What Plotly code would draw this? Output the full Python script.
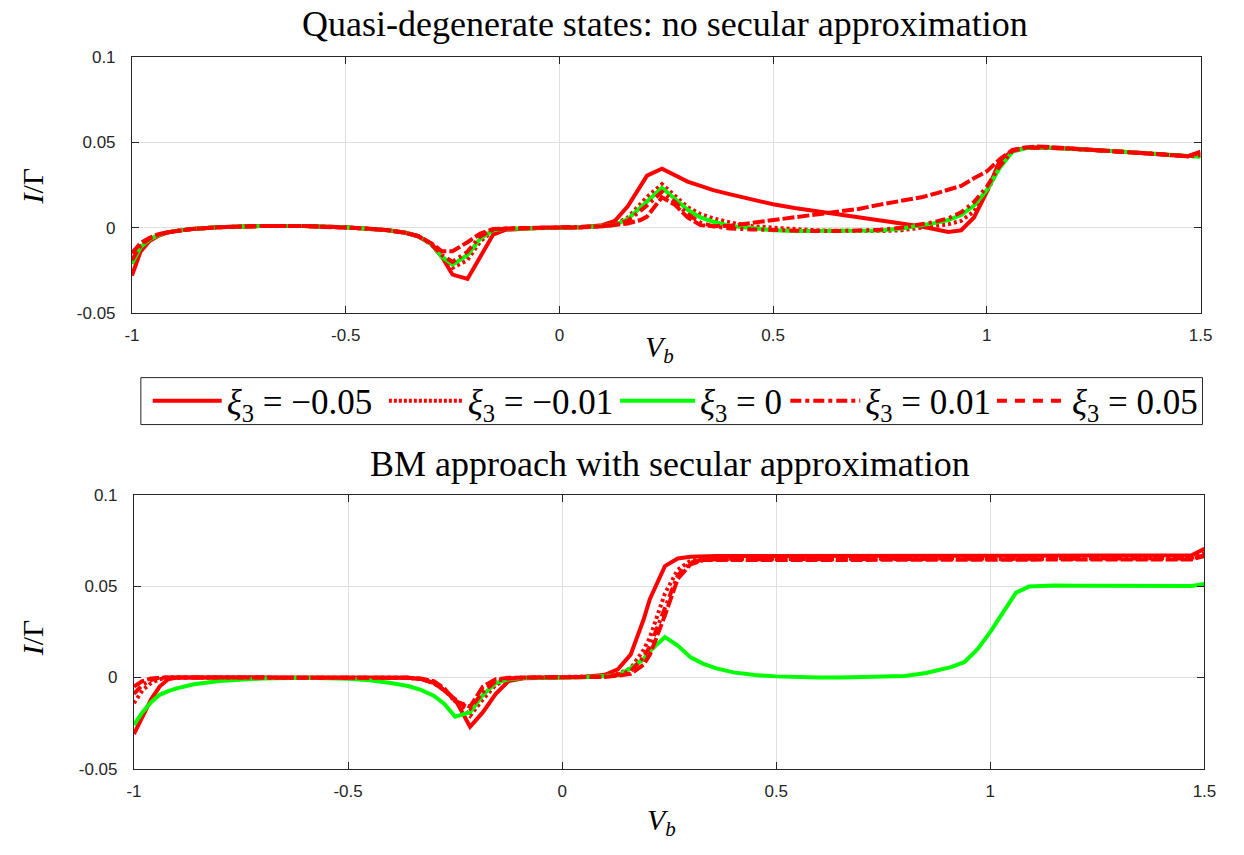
import plotly.graph_objects as go

# ---------------- data ----------------
V = [-1, -0.98, -0.96, -0.94, -0.92, -0.9, -0.86, -0.8, -0.7, -0.6,
     -0.5, -0.45, -0.4, -0.36, -0.33, -0.3, -0.275, -0.25, -0.215, -0.185,
     -0.155, -0.125, -0.09, -0.05, 0, 0.05, 0.1, 0.13, 0.16, 0.19,
     0.205, 0.24, 0.27, 0.3, 0.33, 0.36, 0.4, 0.45, 0.5, 0.55,
     0.6, 0.65, 0.7, 0.75, 0.8, 0.85, 0.88, 0.91, 0.94, 0.97,
     1.0, 1.03, 1.06, 1.09, 1.12, 1.15, 1.2, 1.3, 1.4, 1.47, 1.5]

# top panel: quasi-degenerate states, no secular approximation
top_m005 = [-0.028, -0.014, -0.008, -0.005, -0.003, -0.002, -0.0008, 0.0002, 0.001, 0.001,
            0.0002, -0.0005, -0.0015, -0.003, -0.005, -0.0095, -0.017, -0.0275, -0.030, -0.017,
            -0.004, -0.0012, -0.0005, -0.0002, 0.0, 0.0003, 0.0015, 0.004, 0.0125, 0.0245,
            0.0305, 0.0345, 0.031, 0.027, 0.0245, 0.022, 0.0195, 0.0163, 0.0137, 0.0115,
            0.0098, 0.008, 0.0062, 0.0045, 0.0025, 0.0005, -0.0012, -0.0025, -0.0015, 0.006,
            0.021, 0.039, 0.045, 0.0466, 0.047, 0.0468, 0.0462, 0.0448, 0.0432, 0.0418, 0.0445]
top_m001 = [-0.021, -0.011, -0.007, -0.0045, -0.003, -0.002, -0.0008, 0.0002, 0.001, 0.001,
            0.0002, -0.0005, -0.0015, -0.003, -0.005, -0.0095, -0.017, -0.0235, -0.019, -0.008,
            -0.002, -0.0008, -0.0004, -0.0002, 0.0, 0.0002, 0.001, 0.002, 0.006, 0.014,
            0.018, 0.0255, 0.019, 0.012, 0.008, 0.0055, 0.003, 0.001, 0.0, -0.001,
            -0.0015, -0.0018, -0.002, -0.002, -0.0015, 0.0, 0.0012, 0.002, 0.004, 0.0095,
            0.021, 0.036, 0.045, 0.0466, 0.047, 0.0468, 0.0462, 0.0448, 0.0432, 0.0418, 0.042]
top_0 = [-0.021, -0.0115, -0.007, -0.0045, -0.003, -0.002, -0.0008, 0.0002, 0.001, 0.001,
         0.0002, -0.0005, -0.0015, -0.003, -0.005, -0.0095, -0.017, -0.0216, -0.016, -0.0063,
         -0.0015, -0.0006, -0.0003, -0.0001, 0.0, 0.0002, 0.001, 0.0015, 0.005, 0.012,
         0.0155, 0.0233, 0.017, 0.0105, 0.006, 0.0035, 0.001, -0.0005, -0.0015, -0.002,
         -0.002, -0.002, -0.002, -0.0016, -0.0005, 0.0015, 0.0028, 0.0045, 0.0075, 0.013,
         0.022, 0.035, 0.0445, 0.0465, 0.047, 0.0468, 0.0462, 0.0448, 0.0432, 0.0418, 0.0415]
top_p001 = [-0.019, -0.0105, -0.0065, -0.0043, -0.003, -0.002, -0.0008, 0.0002, 0.001, 0.001,
            0.0002, -0.0005, -0.0015, -0.003, -0.005, -0.0095, -0.016, -0.020, -0.014, -0.005,
            -0.0013, -0.0005, -0.0003, -0.0001, 0.0, 0.0002, 0.0008, 0.0015, 0.004, 0.010,
            0.013, 0.021, 0.015, 0.008, 0.003, 0.0008, -0.0005, -0.001, -0.0015, -0.0018,
            -0.002, -0.002, -0.0018, -0.0012, 0.0, 0.002, 0.0035, 0.0055, 0.009, 0.015,
            0.024, 0.036, 0.045, 0.0468, 0.047, 0.0468, 0.0462, 0.0448, 0.0432, 0.0418, 0.0425]
top_p005 = [-0.015, -0.009, -0.006, -0.004, -0.0028, -0.002, -0.0008, 0.0002, 0.001, 0.001,
            0.0002, -0.0005, -0.0015, -0.003, -0.005, -0.009, -0.0138, -0.0138, -0.0085, -0.0034,
            -0.0008, -0.0003, -0.0002, -0.0001, 0.0, 0.0002, 0.0008, 0.0015, 0.0025, 0.0045,
            0.0065, 0.0178, 0.0135, 0.006, 0.0015, 0.0008, 0.0012, 0.0028, 0.0045, 0.006,
            0.0075, 0.0093, 0.011, 0.0135, 0.0158, 0.018, 0.020, 0.022, 0.0245, 0.029,
            0.033, 0.040, 0.0455, 0.047, 0.0476, 0.0472, 0.0464, 0.0449, 0.0433, 0.0419, 0.044]

# bottom panel: BM approach with secular approximation
bot_m005 = [-0.031, -0.021, -0.012, -0.005, -0.001, 0.0, 0.0, 0.0, 0.0, 0.0,
            0.0, 0.0, 0.0, -0.0002, -0.0008, -0.003, -0.007, -0.012, -0.027, -0.019,
            -0.009, -0.002, -0.0004, 0.0, 0.0, 0.0002, 0.0015, 0.0045, 0.0125, 0.0316,
            0.043, 0.061, 0.0652, 0.0662, 0.0665, 0.0665, 0.0665, 0.0665, 0.0665, 0.0665,
            0.0665, 0.0665, 0.0665, 0.0665, 0.0665, 0.0665, 0.0665, 0.0665, 0.0665, 0.0665,
            0.0665, 0.0665, 0.0665, 0.0665, 0.0665, 0.0665, 0.0665, 0.0665, 0.0666, 0.0669, 0.0705]
bot_m001 = [-0.014, -0.007, -0.003, -0.001, 0.0, 0.0, 0.0, 0.0, 0.0, 0.0,
            0.0, 0.0, 0.0, -0.0002, -0.0008, -0.003, -0.007, -0.012, -0.021, -0.012,
            -0.004, -0.001, -0.0002, 0.0, 0.0, 0.0001, 0.0008, 0.002, 0.005, 0.015,
            0.022, 0.046, 0.059, 0.064, 0.0648, 0.065, 0.065, 0.065, 0.065, 0.065,
            0.065, 0.065, 0.065, 0.065, 0.065, 0.065, 0.065, 0.065, 0.065, 0.065,
            0.065, 0.065, 0.065, 0.065, 0.065, 0.065, 0.065, 0.065, 0.0651, 0.0654, 0.068]
bot_0 = [-0.026, -0.019, -0.0135, -0.0095, -0.0075, -0.006, -0.0037, -0.0019, -0.0005, -0.0002,
         -0.0007, -0.0015, -0.003, -0.0047, -0.0068, -0.010, -0.0145, -0.0215, -0.019, -0.0095,
         -0.003, -0.001, -0.0003, 0.0, 0.0, 0.0001, 0.0006, 0.0012, 0.005, 0.010,
         0.0145, 0.0221, 0.0175, 0.011, 0.0075, 0.005, 0.0028, 0.0013, 0.0006, 0.0002,
         0.0, 0.0, 0.0001, 0.0002, 0.0008, 0.0025, 0.004, 0.0058, 0.0085, 0.0155,
         0.025, 0.036, 0.0465, 0.0498, 0.0503, 0.0504, 0.0503, 0.0501, 0.050, 0.0501, 0.0512]
bot_p001 = [-0.009, -0.004, -0.0015, 0.0, 0.0, 0.0, 0.0, 0.0, 0.0, 0.0,
            0.0, 0.0, 0.0, -0.0002, -0.0008, -0.003, -0.007, -0.013, -0.017, -0.008,
            -0.002, -0.0005, -0.0001, 0.0, 0.0, 0.0001, 0.0005, 0.0015, 0.0035, 0.011,
            0.017, 0.038, 0.056, 0.063, 0.0645, 0.0648, 0.0648, 0.0648, 0.0648, 0.0648,
            0.0648, 0.0648, 0.0648, 0.0648, 0.0648, 0.0648, 0.0648, 0.0648, 0.0648, 0.0648,
            0.0648, 0.0648, 0.0648, 0.0648, 0.0648, 0.0648, 0.0648, 0.0648, 0.0649, 0.0652, 0.067]
bot_p005 = [-0.005, -0.002, -0.0005, 0.0, 0.0, 0.0, 0.0, 0.0, 0.0, 0.0,
            0.0, 0.0, 0.0, -0.0002, -0.0006, -0.002, -0.006, -0.013, -0.016, -0.005,
            -0.001, -0.0002, 0.0, 0.0, 0.0, 0.0001, 0.0003, 0.001, 0.002, 0.007,
            0.0125, 0.034, 0.054, 0.062, 0.0643, 0.0643, 0.0643, 0.0643, 0.0643, 0.0643,
            0.0643, 0.0643, 0.0643, 0.0643, 0.0643, 0.0643, 0.0643, 0.0643, 0.0643, 0.0643,
            0.0643, 0.0643, 0.0643, 0.0643, 0.0643, 0.0643, 0.0643, 0.0643, 0.0644, 0.0647, 0.0665]

labels = ["<i>ξ</i><sub>3</sub> = −0.05", "<i>ξ</i><sub>3</sub> = −0.01",
          "<i>ξ</i><sub>3</sub> = 0", "<i>ξ</i><sub>3</sub> = 0.01",
          "<i>ξ</i><sub>3</sub> = 0.05"]
x_ticks = [-1, -0.5, 0, 0.5, 1, 1.5]
x_ticktext = ["-1", "-0.5", "0", "0.5", "1", "1.5"]
y_ticks = [-0.05, 0, 0.05, 0.1]
y_ticktext = ["-0.05", "0", "0.05", "0.1"]

# ---------------- styling ----------------
W, H = 1244, 855
RED, GREEN = "#ff0000", "#00ff00"
colors = [RED, RED, GREEN, RED, RED]
plot_dash = ["solid", "3px,3px", "solid", "10px,4px,3px,4px", "12px,3px"]
leg_dash = ["solid", "3px,2px", "solid", "11px,4px,4px,4px", "10px,8px"]
LW = 4
top_series = [top_m005, top_m001, top_0, top_p001, top_p005]
bot_series = [bot_m005, bot_m001, bot_0, bot_p001, bot_p005]

fig = go.Figure()
for i in range(5):
    fig.add_trace(go.Scatter(x=V, y=top_series[i], mode="lines", xaxis="x", yaxis="y",
                             line=dict(color=colors[i], width=LW, dash=plot_dash[i]),
                             showlegend=False, hoverinfo="skip"))
for i in range(5):
    fig.add_trace(go.Scatter(x=V, y=bot_series[i], mode="lines", xaxis="x2", yaxis="y2",
                             line=dict(color=colors[i], width=LW, dash=plot_dash[i]),
                             showlegend=False, hoverinfo="skip"))

legend_names = ["legend", "legend2", "legend3", "legend4", "legend5"]
for i in range(5):
    fig.add_trace(go.Scatter(x=[None], y=[None], mode="lines", xaxis="x", yaxis="y",
                             name=labels[i], legend=legend_names[i],
                             line=dict(color=colors[i], width=LW, dash=leg_dash[i]),
                             showlegend=True, hoverinfo="skip"))

def px_x(p):
    return p / W

def px_y(p):
    return 1 - p / H

AXCOL = "#262626"
tickfont = dict(family="Liberation Sans, Arial, sans-serif", size=17, color=AXCOL)
common_x = dict(range=[-1, 1.5], tickvals=x_ticks, ticktext=x_ticktext, showgrid=True,
                gridcolor="#dfdfdf", gridwidth=1, zeroline=False, showline=True,
                linecolor=AXCOL, linewidth=1, mirror="ticks", ticks="inside", ticklen=7,
                tickcolor=AXCOL, tickfont=tickfont, ticklabelstandoff=7)
common_y = dict(range=[-0.05, 0.1], tickvals=y_ticks, ticktext=y_ticktext, showgrid=True,
                gridcolor="#dfdfdf", gridwidth=1, zeroline=False, showline=True,
                linecolor=AXCOL, linewidth=1, mirror="ticks", ticks="inside", ticklen=7,
                tickcolor=AXCOL, tickfont=tickfont, ticklabelstandoff=12)

serif = "Liberation Serif, Times New Roman, serif"
fig.update_layout(
    width=W, height=H, margin=dict(l=0, r=0, t=0, b=0),
    paper_bgcolor="white", plot_bgcolor="white",
    xaxis=dict(domain=[px_x(126), px_x(1212)], anchor="y", **common_x),
    yaxis=dict(domain=[px_y(311), px_y(49)], anchor="x", **common_y),
    xaxis2=dict(domain=[px_x(128), px_x(1216)], anchor="y2", **common_x),
    yaxis2=dict(domain=[px_y(777), px_y(497)], anchor="x2", **common_y),
)

# legend entry placement: (left edge of legend, symbol width)
leg_x = [142, 382, 617, 790, 1000]
leg_w = [69, 74, 75, 70, 70]
for i, name in enumerate(legend_names):
    fig.update_layout({name: dict(x=px_x(leg_x[i]), y=px_y(401), xanchor="left",
                                  yanchor="middle", orientation="h",
                                  bgcolor="rgba(0,0,0,0)", borderwidth=0, itemwidth=leg_w[i],
                                  font=dict(family=serif, size=35, color="black"))})

fig.add_shape(type="rect", xref="paper", yref="paper", x0=px_x(135), x1=px_x(1214),
              y0=px_y(425), y1=px_y(377), line=dict(color=AXCOL, width=1),
              fillcolor="white", layer="below")

ann = [
    dict(text="Quasi-degenerate states: no secular approximation", x=px_x(668), y=px_y(15), size=36),
    dict(text="BM approach with secular approximation", x=px_x(673), y=px_y(465), size=36),
    dict(text="<i>V</i><sub><i>b</i></sub>", x=px_x(662), y=px_y(348), size=30),
    dict(text="<i>V</i><sub><i>b</i></sub>", x=px_x(664), y=px_y(831), size=30),
]
for a in ann:
    fig.add_annotation(text=a["text"], x=a["x"], y=a["y"], xref="paper", yref="paper",
                       xanchor="center", yanchor="middle", showarrow=False,
                       font=dict(family=serif, size=a["size"], color="black"))
for yc in (181, 643):
    fig.add_annotation(text="<i>I</i>/Γ", x=px_x(25), y=px_y(yc), xref="paper", yref="paper",
                       xanchor="center", yanchor="middle", showarrow=False, textangle=-90,
                       font=dict(family=serif, size=30, color="black"))

fig.write_html("out.html")
